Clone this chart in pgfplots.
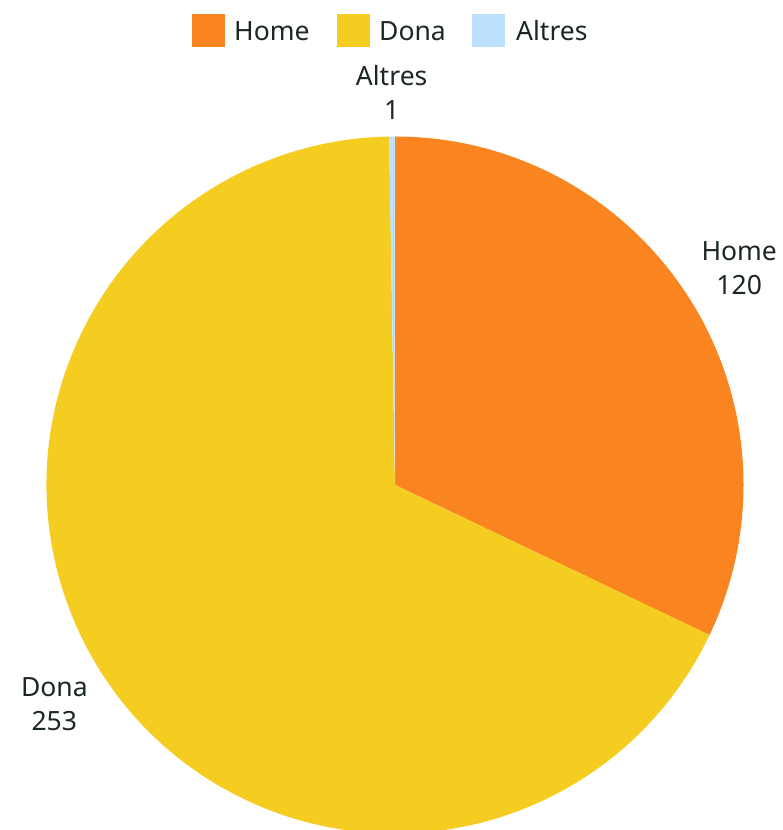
\documentclass[border=0pt]{standalone}
\usepackage{fontspec}
\setmainfont{Noto Sans}
\usepackage{pgfplots}
\pgfplotsset{compat=1.18}
\usepackage{pgfplotstable}

\definecolor{cHome}{HTML}{FA8520}
\definecolor{cDona}{HTML}{F5CD20}
\definecolor{cAltres}{HTML}{BDE0FE}
\definecolor{txt}{HTML}{1B2626}

\pgfplotstableread{
label value
Home 120
Dona 253
Altres 1
}\piedata

\pgfplotstablegetelem{0}{value}\of\piedata \let\vHome\pgfplotsretval
\pgfplotstablegetelem{1}{value}\of\piedata \let\vDona\pgfplotsretval
\pgfplotstablegetelem{2}{value}\of\piedata \let\vAltres\pgfplotsretval

% angles, clockwise from the top
\pgfmathsetmacro\tot{\vHome+\vDona+\vAltres}
\pgfmathsetmacro\aA{90}
\pgfmathsetmacro\aB{\aA-360*(\vHome/\tot)}
\pgfmathsetmacro\aC{\aB-360*(\vDona/\tot)}
\pgfmathsetmacro\aD{\aC-360*(\vAltres/\tot)}
\pgfmathsetmacro\mHome{(\aA+\aB)/2}
\pgfmathsetmacro\mDona{(\aB+\aC)/2}
\pgfmathsetmacro\mAltres{(\aC+\aD)/2}

\begin{document}
\begin{tikzpicture}[font=\fontsize{26.5}{34}\selectfont, text=txt]
\begin{axis}[
    x=1pt, y=1pt,
    xmin=0, xmax=782, ymin=0, ymax=830,
    hide axis, clip=false,
]
\coordinate (BL) at (axis cs:0,0);
\coordinate (TR) at (axis cs:782,830);

% slices
\fill[cHome] (axis cs:395,345) -- ++(\aA:348.5pt) arc[start angle=\aA, end angle=\aB, radius=348.5pt] -- cycle;
\fill[cDona] (axis cs:395,345) -- ++(\aB:348.5pt) arc[start angle=\aB, end angle=\aC, radius=348.5pt] -- cycle;
\fill[cAltres] (axis cs:395,345) -- ++(\aC:348.5pt) arc[start angle=\aC, end angle=\aD, radius=348.5pt] -- cycle;

% slice labels
\path (axis cs:395,345) ++(\mHome:407pt) node[align=center] {Home\\\vHome};
\path (axis cs:395,345) ++(\mDona:405pt) node[align=center] {Dona\\\vDona};
\path (axis cs:395,345) ++(\mAltres:393pt) node[align=center] {Altres\\\vAltres};

% legend
\fill[cHome] (axis cs:192,783) rectangle (axis cs:225,816);
\node[anchor=west, inner sep=0pt] at (axis cs:234,799) {Home};
\fill[cDona] (axis cs:337,783) rectangle (axis cs:370,816);
\node[anchor=west, inner sep=0pt] at (axis cs:379,799) {Dona};
\fill[cAltres] (axis cs:472,783) rectangle (axis cs:505,816);
\node[anchor=west, inner sep=0pt] at (axis cs:516,799) {Altres};
\end{axis}
\pgfresetboundingbox
\useasboundingbox (BL) rectangle (TR);
\end{tikzpicture}
\end{document}
